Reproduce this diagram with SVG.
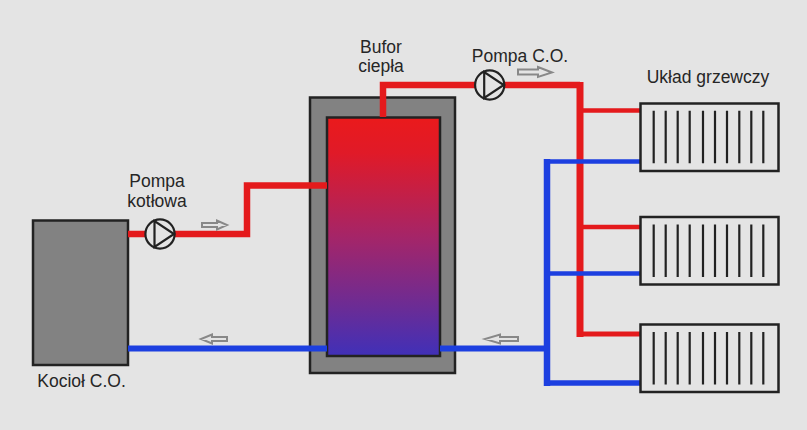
<svg xmlns="http://www.w3.org/2000/svg" width="807" height="430" viewBox="0 0 807 430">
<style>
text{font-family:"Liberation Sans",Arial,sans-serif;font-size:17.5px;fill:#262626}
.m{text-anchor:middle}
.box{stroke:#222;stroke-width:2.5}
.rad{fill:#e4e4e4;stroke:#222;stroke-width:2.5}
.bars{stroke:#222;stroke-width:2.2;fill:none}
.red{stroke:#e41a1c;fill:none;stroke-linejoin:miter}
.blue{stroke:#1c3fe0;fill:none;stroke-linejoin:miter}
.flow{fill:#e4e4e4;stroke:#888;stroke-width:2}
.pump{fill:#e4e4e4;stroke:#222;stroke-width:2.2;stroke-linejoin:miter}
</style>
<defs>
<linearGradient id="tank" x1="0" y1="0" x2="0" y2="1">
<stop offset="0" stop-color="#ea1a1c"/>
<stop offset="0.15" stop-color="#e01a28"/>
<stop offset="0.5" stop-color="#a52568"/>
<stop offset="0.8" stop-color="#6a2c96"/>
<stop offset="1" stop-color="#4030b8"/>
</linearGradient>
<g id="radbars" class="bars">
<path d="M653.7 0V52.5M665.7 0V52.5M677.7 0V52.5M689.7 0V52.5M703 0V52.5M715 0V52.5M727 0V52.5M739.3 0V52.5M751.3 0V52.5M763.3 0V52.5"/>
</g>
<g id="pumpshape">
<circle r="14.6"/>
<path d="M-5.5 -13V13L14 0Z" fill="none"/>
</g>
</defs>
<rect width="807" height="430" fill="#e4e4e4"/>

<g id="boiler"><rect class="box" x="33" y="220.500" width="95" height="144.500" fill="#828282"/></g>
<g id="buffer">
<rect class="box" x="310" y="97.500" width="145" height="275.500" fill="#828282"/>
<rect class="box" x="327" y="117.500" width="113" height="238.500" fill="url(#tank)"/>
</g>

<g id="connectors">
<path class="red" stroke-width="6.500" d="M128 234H247V185.500H327"/>
<path class="red" stroke-width="6.500" d="M383 117V85H580"/>
<path class="red" stroke-width="7" d="M580 82V337"/>
<path class="red" stroke-width="4.500" d="M580 110.500H640M580 227H640"/>
<path class="red" stroke-width="5" d="M580 334H640"/>
<path class="blue" stroke-width="6" d="M128 348.500H327"/>
<path class="blue" stroke-width="6" d="M440 348.500H547"/>
<path class="blue" stroke-width="6.500" d="M547 159V386"/>
<path class="blue" stroke-width="4.500" d="M545 161.500H640M547 273.500H640"/>
<path class="blue" stroke-width="5.500" d="M547 383H640"/>
<path class="flow" d="M202 223H217V220.500L227 225L217 229.500V227H202Z"/>
<path class="flow" d="M518 69.500H538V67L552 72.500L538 77V74.500H518Z"/>
<path class="flow" d="M227 337H212V334.500L201 339L212 343.500V341H227Z"/>
<path class="flow" d="M518 337H500V334.500L485 339L500 343.500V341H518Z"/>
</g>

<g id="pump-boiler"><use href="#pumpshape" class="pump" x="160" y="234"/></g>
<g id="pump-co"><use href="#pumpshape" class="pump" x="489.700" y="85"/></g>

<g id="radiator-1"><rect class="rad" x="640.500" y="103.500" width="138" height="67.500"/><use href="#radbars" y="110.700"/></g>
<g id="radiator-2"><rect class="rad" x="640.500" y="217" width="138" height="67.500"/><use href="#radbars" y="224.500"/></g>
<g id="radiator-3"><rect class="rad" x="640.500" y="324.500" width="138" height="67.500"/><use href="#radbars" y="332"/></g>

<g id="labels">
<text class="m" x="381" y="53">Bufor</text>
<text class="m" x="381" y="72">ciepła</text>
<text class="m" x="520" y="62">Pompa C.O.</text>
<text class="m" x="157" y="187">Pompa</text>
<text class="m" x="157" y="207">kotłowa</text>
<text class="m" x="81.500" y="387">Kocioł C.O.</text>
<text class="m" x="708" y="83">Układ grzewczy</text>
</g>
</svg>
